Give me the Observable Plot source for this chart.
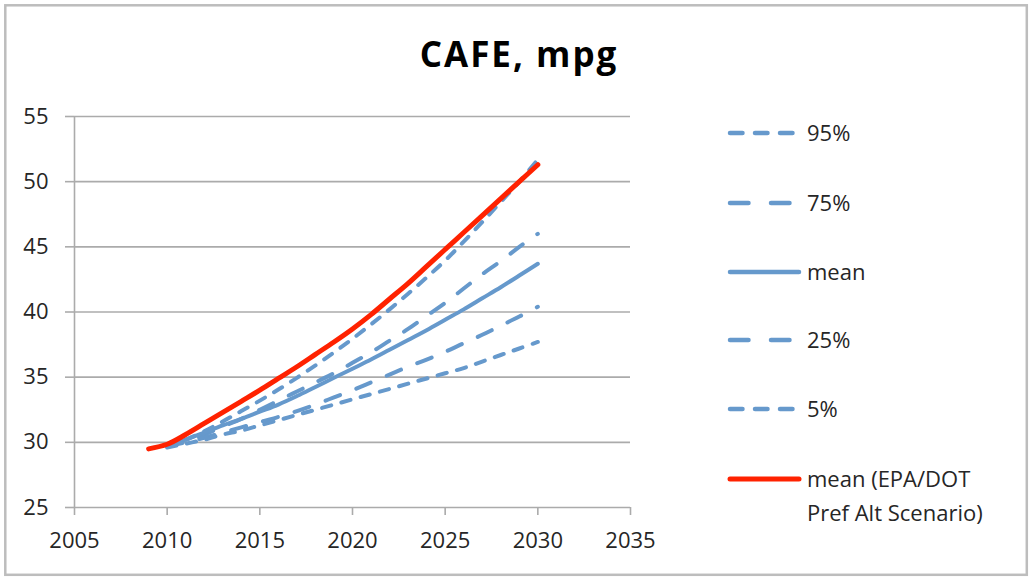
<!DOCTYPE html>
<html><head><meta charset="utf-8">
<script src="https://cdn.jsdelivr.net/npm/d3@7"></script>
<script src="https://cdn.jsdelivr.net/npm/@observablehq/plot@0.6"></script>
<style>
html,body{margin:0;padding:0;background:#fff;}
#wrap{position:relative;width:1029px;height:581px;overflow:hidden;background:#fff;}
#wrap svg{position:absolute;left:0;top:0;}
</style></head><body><div id="wrap"></div>
<script>
const chartTitle = "CAFE, mpg";
const xTicks = [2005, 2010, 2015, 2020, 2025, 2030, 2035];
const yTicks = [25, 30, 35, 40, 45, 50, 55];
const bandYears = [2010,2011,2012,2013,2014,2015,2016,2017,2018,2019,2020,2021,2022,2023,2024,2025,2026,2027,2028,2029,2030];
const scenarioYears = [2009,2010,2011,2012,2013,2014,2015,2016,2017,2018,2019,2020,2021,2022,2023,2024,2025,2026,2027,2028,2029,2030];
const p95  = [29.7,30.2,30.85,31.6,32.4,33.2,34.05,34.95,35.9,36.9,37.95,39.05,40.2,41.4,42.65,43.95,45.4,46.9,48.45,50.0,51.7];
const p75  = [29.7,30.1,30.6,31.2,31.8,32.5,33.2,33.9,34.6,35.3,36.1,36.9,37.8,38.7,39.7,40.7,41.8,42.9,43.9,45.0,46.0];
const pMean= [29.7,30.2,30.75,31.3,31.8,32.35,32.9,33.55,34.25,34.95,35.65,36.35,37.1,37.85,38.6,39.4,40.2,41.05,41.9,42.8,43.7];
const p25  = [29.7,30.0,30.35,30.75,31.15,31.55,31.95,32.4,32.9,33.45,34.0,34.6,35.2,35.8,36.35,36.95,37.6,38.25,38.95,39.65,40.4];
const p5   = [29.6,29.9,30.2,30.6,30.9,31.3,31.7,32.1,32.5,32.9,33.3,33.7,34.1,34.5,34.9,35.3,35.7,36.2,36.7,37.2,37.7];
const scenarioMean = [29.5,29.85,30.6,31.45,32.3,33.15,34.0,34.9,35.8,36.75,37.7,38.7,39.8,41.0,42.2,43.5,44.8,46.1,47.4,48.7,50.0,51.3];
const bandNames = ["95%", "75%", "mean", "25%", "5%"];
const scenarioLabel = ["mean (EPA/DOT", "Pref Alt Scenario)"];

const blue = "#6699cc", red = "#ff2200", grid = "#ababab", ink = "#262626";
const bandValues = [p95, p75, pMean, p25, p5];
const shortDash = "9.5,10.5", longDash = "15.5,17.5";
const legendShort = "12.5,12.5", legendLong = "18.5,22.5";
const bandDash = [shortDash, longDash, null, longDash, shortDash];
const bandLegendDash = [legendShort, legendLong, null, legendLong, legendShort];

const bandRows = bandNames.map((name, k) => bandYears.map((yr, i) => ({series: name, year: yr, value: bandValues[k][i]})));
const scenRows = scenarioYears.map((yr, i) => ({year: yr, value: scenarioMean[i]}));

const plot = Plot.plot({
  width: 1029, height: 581,
  marginLeft: 74, marginRight: 399, marginTop: 116, marginBottom: 74,
  style: {fontFamily: "'Open Sans', sans-serif", fontSize: "22px", color: ink, background: "transparent"},
  x: {domain: [xTicks[0], xTicks[xTicks.length - 1]]},
  y: {domain: [yTicks[0], yTicks[yTicks.length - 1]]},
  marks: [
    Plot.gridY(yTicks, {stroke: grid, strokeOpacity: 1, strokeWidth: 1.6}),
    Plot.ruleX([xTicks[0]], {stroke: grid, strokeWidth: 1.6}),
    Plot.axisY(yTicks, {tickSize: 9, tickPadding: 17, stroke: grid, strokeWidth: 1.6, fill: ink, label: null}),
    Plot.axisX(xTicks, {tickSize: 8, tickPadding: 17, stroke: grid, strokeWidth: 1.6, fill: ink, label: null, tickFormat: d => String(d)}),
    ...bandRows.map((rows, k) => Plot.line(rows, {
      x: "year", y: "value", stroke: blue, strokeWidth: 4,
      strokeDasharray: bandDash[k], strokeLinecap: "round", curve: "catmull-rom"
    })),
    Plot.line(scenRows, {x: "year", y: "value", stroke: red, strokeWidth: 5, strokeLinecap: "round", curve: "catmull-rom"})
  ]
});
const wrap = document.getElementById("wrap");
wrap.appendChild(plot);

// overlay: border, title, legend
const ov = d3.select(wrap).append("svg").attr("width", 1029).attr("height", 581)
  .style("font-family", "'Open Sans', sans-serif");
ov.append("rect").attr("x", 5.3).attr("y", 5.3).attr("width", 1021.5).attr("height", 569.5)
  .attr("fill", "none").attr("stroke", "#bdbdbd").attr("stroke-width", 2.5);
ov.append("text").attr("x", 519).attr("y", 67).attr("text-anchor", "middle")
  .attr("font-size", 35).attr("font-weight", 700).attr("letter-spacing", "2px").attr("fill", "#000")
  .text(chartTitle);

const legendY = [133, 203, 272, 340, 409];
bandNames.forEach((name, k) => {
  const g = ov.append("g");
  const ln = g.append("line").attr("x1", 730).attr("x2", 799).attr("y1", legendY[k]).attr("y2", legendY[k])
    .attr("stroke", blue).attr("stroke-width", 4.5).attr("stroke-linecap", "round");
  if (bandLegendDash[k]) ln.attr("stroke-dasharray", bandLegendDash[k]);
  g.append("text").attr("x", 807).attr("y", legendY[k]).attr("dy", "0.36em")
    .attr("font-size", 22).attr("fill", ink).text(name);
});
ov.append("line").attr("x1", 730).attr("x2", 799).attr("y1", 479).attr("y2", 479)
  .attr("stroke", red).attr("stroke-width", 5).attr("stroke-linecap", "round");
scenarioLabel.forEach((t, i) => {
  ov.append("text").attr("x", 807).attr("y", 479 + i * 34).attr("dy", "0.36em")
    .attr("font-size", 22).attr("fill", ink).text(t);
});
</script></body></html>
